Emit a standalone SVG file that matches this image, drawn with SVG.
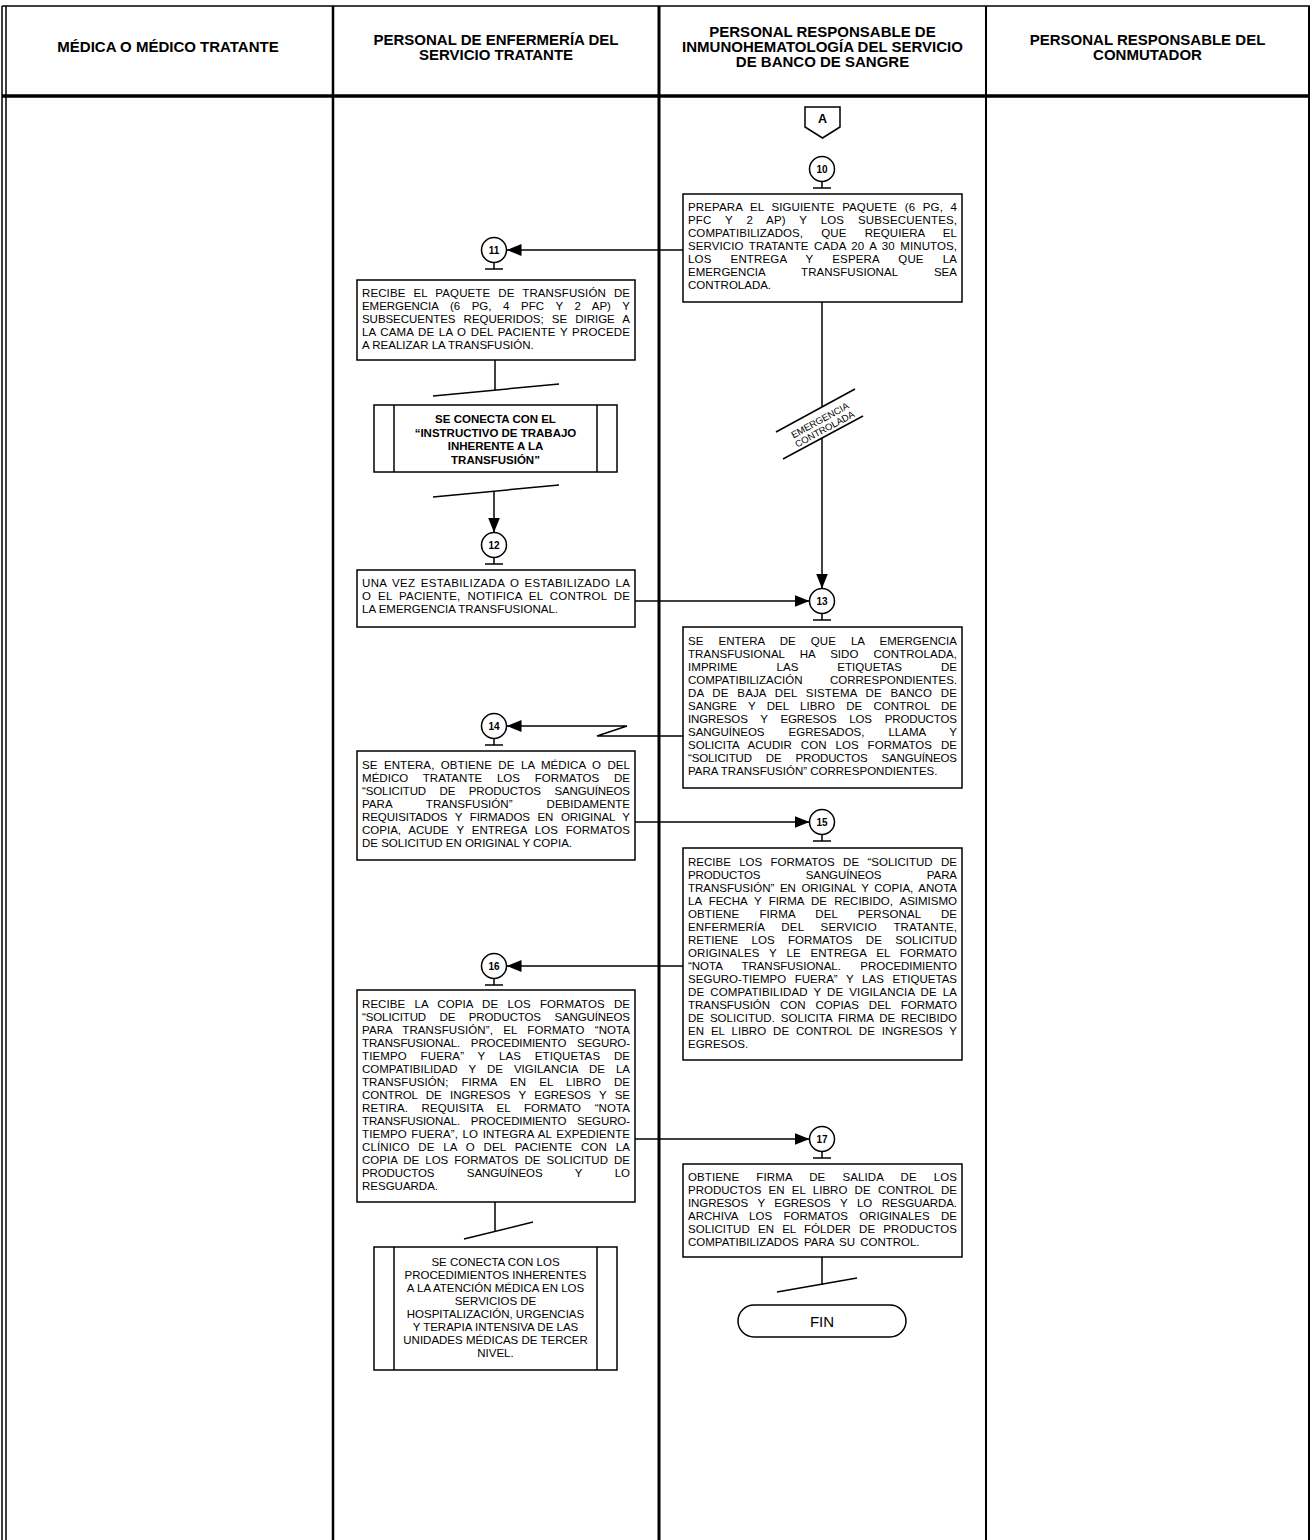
<svg xmlns="http://www.w3.org/2000/svg" width="1313" height="1540" viewBox="0 0 1313 1540">
<style>
  .frame{stroke:#000;fill:none}
  .box{fill:#fff;stroke:#000;stroke-width:1.5}
  .ln{stroke:#000;stroke-width:1.5;fill:none}
  .hd{font-family:"Liberation Sans",Arial,sans-serif;font-size:15px;font-weight:bold;text-anchor:middle;fill:#000}
  .t{font-family:"Liberation Sans",Arial,sans-serif;font-size:11.5px;fill:#000}
  .c{text-anchor:middle}
  .b{font-weight:bold}
  .num{font-family:"Liberation Sans",Arial,sans-serif;font-size:10px;font-weight:bold;text-anchor:middle}
  .small{font-family:"Liberation Sans",Arial,sans-serif;font-size:9.5px;text-anchor:middle}
</style>
<defs>
  <marker id="arr" markerUnits="userSpaceOnUse" markerWidth="16" markerHeight="12" refX="15" refY="6" orient="auto">
    <path d="M0,0 L15,6 L0,12 Z" fill="#000"/>
  </marker>
  <g id="stem"><line x1="0" y1="12.5" x2="0" y2="19" class="ln"/><line x1="-9" y1="19" x2="9" y2="19" class="ln"/></g>
</defs>
<rect width="1313" height="1540" fill="#fff"/>

<!-- swimlane frame -->
<g id="lanes">
  <line x1="2" y1="6" x2="1310" y2="6" class="frame" stroke-width="1.5"/>
  <line x1="2" y1="96" x2="1310" y2="96" class="frame" stroke-width="3.5"/>
  <line x1="2" y1="6" x2="2" y2="1540" class="frame" stroke-width="1.5"/>
  <line x1="6" y1="6" x2="6" y2="1540" class="frame" stroke-width="1.5"/>
  <line x1="333" y1="6" x2="333" y2="1540" class="frame" stroke-width="2.5"/>
  <line x1="659" y1="6" x2="659" y2="1540" class="frame" stroke-width="3"/>
  <line x1="986" y1="6" x2="986" y2="1540" class="frame" stroke-width="2"/>
  <line x1="1309" y1="6" x2="1309" y2="1540" class="frame" stroke-width="2"/>
  <text class="hd" x="168" y="52">MÉDICA O MÉDICO TRATANTE</text>
  <text class="hd" x="496" y="45">PERSONAL DE ENFERMERÍA DEL</text>
  <text class="hd" x="496" y="60">SERVICIO TRATANTE</text>
  <text class="hd" x="822.5" y="37">PERSONAL RESPONSABLE DE</text>
  <text class="hd" x="822.5" y="52">INMUNOHEMATOLOGÍA DEL SERVICIO</text>
  <text class="hd" x="822.5" y="67">DE BANCO DE SANGRE</text>
  <text class="hd" x="1147.5" y="45">PERSONAL RESPONSABLE DEL</text>
  <text class="hd" x="1147.5" y="60">CONMUTADOR</text>
</g>

<!-- connectors -->
<g id="connectors">
  <line x1="683" y1="250" x2="506.5" y2="250" class="ln" marker-end="url(#arr)"/>
  <line x1="495" y1="360" x2="495" y2="390" class="ln"/>
  <line x1="433" y1="396" x2="559" y2="384" class="ln"/>
  <line x1="433" y1="497" x2="559" y2="485" class="ln"/>
  <line x1="494" y1="491" x2="494" y2="532.5" class="ln" marker-end="url(#arr)"/>
  <line x1="635" y1="601" x2="809.5" y2="601" class="ln" marker-end="url(#arr)"/>
  <line x1="822" y1="302" x2="822" y2="407" class="ln"/>
  <line x1="776" y1="432" x2="855" y2="389" class="ln"/>
  <line x1="783" y1="459" x2="863" y2="416" class="ln"/>
  <line x1="822" y1="438" x2="822" y2="588.5" class="ln" marker-end="url(#arr)"/>
  <text class="small" transform="translate(822,424) rotate(-28.6)"><tspan x="0" y="-1">EMERGENCIA</tspan><tspan x="0" y="9">CONTROLADA</tspan></text>
  <polyline points="683,736 597,736 627,726 506.5,726" class="ln" marker-end="url(#arr)"/>
  <line x1="635" y1="822" x2="809.5" y2="822" class="ln" marker-end="url(#arr)"/>
  <line x1="683" y1="966" x2="506.5" y2="966" class="ln" marker-end="url(#arr)"/>
  <line x1="635" y1="1139" x2="809.5" y2="1139" class="ln" marker-end="url(#arr)"/>
  <line x1="495" y1="1202" x2="495" y2="1231" class="ln"/>
  <line x1="464" y1="1239" x2="533" y2="1222" class="ln"/>
  <line x1="822" y1="1257" x2="822" y2="1285" class="ln"/>
  <line x1="777" y1="1292" x2="857" y2="1278" class="ln"/>
</g>

<!-- off-page connector A -->
<g id="conn-A">
  <path d="M805,107 H840 V127 L822.5,138 L805,127 Z" class="box"/>
  <text class="num" x="822.5" y="123" style="font-size:12.5px">A</text>
</g>

<!-- step 10 -->
<g id="step10">
  <circle cx="822" cy="169" r="12.5" class="box"/>
  <text class="num" x="822" y="172.5">10</text>
  <use href="#stem" x="822" y="169"/>
  <rect x="683" y="194" width="279" height="108" class="box"/>
  <text class="t" x="688" y="211" textLength="269" lengthAdjust="spacing" word-spacing="4.3">PREPARA EL SIGUIENTE PAQUETE (6 PG, 4</text>
  <text class="t" x="688" y="224" textLength="269" lengthAdjust="spacing" word-spacing="10.4">PFC Y 2 AP) Y LOS SUBSECUENTES,</text>
  <text class="t" x="688" y="237" textLength="269" lengthAdjust="spacing" word-spacing="15">COMPATIBILIZADOS, QUE REQUIERA EL</text>
  <text class="t" x="688" y="250" textLength="269" lengthAdjust="spacing" word-spacing="2.2">SERVICIO TRATANTE CADA 20 A 30 MINUTOS,</text>
  <text class="t" x="688" y="263" textLength="269" lengthAdjust="spacing" word-spacing="15.7">LOS ENTREGA Y ESPERA QUE LA</text>
  <text class="t" x="688" y="276" textLength="269" lengthAdjust="spacing" word-spacing="33">EMERGENCIA TRANSFUSIONAL SEA</text>
  <text class="t" x="688" y="289">CONTROLADA.</text>
</g>

<!-- step 11 -->
<g id="step11">
  <circle cx="494" cy="250" r="12.5" class="box"/>
  <text class="num" x="494" y="253.5">11</text>
  <use href="#stem" x="494" y="250"/>
  <rect x="357" y="280" width="278" height="80" class="box"/>
  <text class="t" x="362" y="297" textLength="268" lengthAdjust="spacing" word-spacing="4.7">RECIBE EL PAQUETE DE TRANSFUSIÓN DE</text>
  <text class="t" x="362" y="310" textLength="268" lengthAdjust="spacing" word-spacing="8.5">EMERGENCIA (6 PG, 4 PFC Y 2 AP) Y</text>
  <text class="t" x="362" y="323" textLength="268" lengthAdjust="spacing" word-spacing="5.1">SUBSECUENTES REQUERIDOS; SE DIRIGE A</text>
  <text class="t" x="362" y="336" textLength="268" lengthAdjust="spacing" word-spacing="1.1">LA CAMA DE LA O DEL PACIENTE Y PROCEDE</text>
  <text class="t" x="362" y="349">A REALIZAR LA TRANSFUSIÓN.</text>
</g>

<!-- linked work instruction -->
<g id="sub-instructivo">
  <rect x="374" y="405" width="243" height="67" class="box"/>
  <line x1="394" y1="405" x2="394" y2="472" class="ln"/>
  <line x1="597" y1="405" x2="597" y2="472" class="ln"/>
  <text class="t c b" x="495.5" y="423">SE CONECTA CON EL</text>
  <text class="t c b" x="495.5" y="436.5">“INSTRUCTIVO DE TRABAJO</text>
  <text class="t c b" x="495.5" y="450">INHERENTE A LA</text>
  <text class="t c b" x="495.5" y="463.5">TRANSFUSIÓN”</text>
</g>

<!-- step 12 -->
<g id="step12">
  <circle cx="494" cy="545" r="12.5" class="box"/>
  <text class="num" x="494" y="548.5">12</text>
  <use href="#stem" x="494" y="545"/>
  <rect x="357" y="570" width="278" height="57" class="box"/>
  <text class="t" x="362" y="587" textLength="268" lengthAdjust="spacing" word-spacing="1.8">UNA VEZ ESTABILIZADA O ESTABILIZADO LA</text>
  <text class="t" x="362" y="600" textLength="268" lengthAdjust="spacing" word-spacing="3.6">O EL PACIENTE, NOTIFICA EL CONTROL DE</text>
  <text class="t" x="362" y="613">LA EMERGENCIA TRANSFUSIONAL.</text>
</g>

<!-- step 13 -->
<g id="step13">
  <circle cx="822" cy="601" r="12.5" class="box"/>
  <text class="num" x="822" y="604.5">13</text>
  <use href="#stem" x="822" y="601"/>
  <rect x="683" y="627" width="279" height="161" class="box"/>
  <text class="t" x="688" y="645" textLength="269" lengthAdjust="spacing" word-spacing="11.9">SE ENTERA DE QUE LA EMERGENCIA</text>
  <text class="t" x="688" y="658" textLength="269" lengthAdjust="spacing" word-spacing="11.8">TRANSFUSIONAL HA SIDO CONTROLADA,</text>
  <text class="t" x="688" y="671" textLength="269" lengthAdjust="spacing" word-spacing="35.7">IMPRIME LAS ETIQUETAS DE</text>
  <text class="t" x="688" y="684" textLength="269" lengthAdjust="spacing" word-spacing="24.4">COMPATIBILIZACIÓN CORRESPONDIENTES.</text>
  <text class="t" x="688" y="697" textLength="269" lengthAdjust="spacing" word-spacing="5.3">DA DE BAJA DEL SISTEMA DE BANCO DE</text>
  <text class="t" x="688" y="710" textLength="269" lengthAdjust="spacing" word-spacing="8">SANGRE Y DEL LIBRO DE CONTROL DE</text>
  <text class="t" x="688" y="723" textLength="269" lengthAdjust="spacing" word-spacing="9.7">INGRESOS Y EGRESOS LOS PRODUCTOS</text>
  <text class="t" x="688" y="736" textLength="269" lengthAdjust="spacing" word-spacing="20.9">SANGUÍNEOS EGRESADOS, LLAMA Y</text>
  <text class="t" x="688" y="749" textLength="269" lengthAdjust="spacing" word-spacing="5.8">SOLICITA ACUDIR CON LOS FORMATOS DE</text>
  <text class="t" x="688" y="762" textLength="269" lengthAdjust="spacing" word-spacing="10.8">“SOLICITUD DE PRODUCTOS SANGUÍNEOS</text>
  <text class="t" x="688" y="775">PARA TRANSFUSIÓN” CORRESPONDIENTES.</text>
</g>

<!-- step 14 -->
<g id="step14">
  <circle cx="494" cy="726" r="12.5" class="box"/>
  <text class="num" x="494" y="729.5">14</text>
  <use href="#stem" x="494" y="726"/>
  <rect x="357" y="751" width="278" height="109" class="box"/>
  <text class="t" x="362" y="769" textLength="268" lengthAdjust="spacing" word-spacing="3.1">SE ENTERA, OBTIENE DE LA MÉDICA O DEL</text>
  <text class="t" x="362" y="782" textLength="268" lengthAdjust="spacing" word-spacing="11.4">MÉDICO TRATANTE LOS FORMATOS DE</text>
  <text class="t" x="362" y="795" textLength="268" lengthAdjust="spacing" word-spacing="10.4">“SOLICITUD DE PRODUCTOS SANGUÍNEOS</text>
  <text class="t" x="362" y="808" textLength="268" lengthAdjust="spacing" word-spacing="30.8">PARA TRANSFUSIÓN” DEBIDAMENTE</text>
  <text class="t" x="362" y="821" textLength="268" lengthAdjust="spacing" word-spacing="4.4">REQUISITADOS Y FIRMADOS EN ORIGINAL Y</text>
  <text class="t" x="362" y="834" textLength="268" lengthAdjust="spacing" word-spacing="4.7">COPIA, ACUDE Y ENTREGA LOS FORMATOS</text>
  <text class="t" x="362" y="847">DE SOLICITUD EN ORIGINAL Y COPIA.</text>
</g>

<!-- step 15 -->
<g id="step15">
  <circle cx="822" cy="822" r="12.5" class="box"/>
  <text class="num" x="822" y="825.5">15</text>
  <use href="#stem" x="822" y="822"/>
  <rect x="683" y="848" width="279" height="212" class="box"/>
  <text class="t" x="688" y="866" textLength="269" lengthAdjust="spacing" word-spacing="5.2">RECIBE LOS FORMATOS DE “SOLICITUD DE</text>
  <text class="t" x="688" y="879" textLength="269" lengthAdjust="spacing" word-spacing="42.4">PRODUCTOS SANGUÍNEOS PARA</text>
  <text class="t" x="688" y="892" textLength="269" lengthAdjust="spacing" word-spacing="2.3">TRANSFUSIÓN” EN ORIGINAL Y COPIA, ANOTA</text>
  <text class="t" x="688" y="905" textLength="269" lengthAdjust="spacing" word-spacing="4">LA FECHA Y FIRMA DE RECIBIDO, ASIMISMO</text>
  <text class="t" x="688" y="918" textLength="269" lengthAdjust="spacing" word-spacing="16.8">OBTIENE FIRMA DEL PERSONAL DE</text>
  <text class="t" x="688" y="931" textLength="269" lengthAdjust="spacing" word-spacing="13.4">ENFERMERÍA DEL SERVICIO TRATANTE,</text>
  <text class="t" x="688" y="944" textLength="269" lengthAdjust="spacing" word-spacing="10.1">RETIENE LOS FORMATOS DE SOLICITUD</text>
  <text class="t" x="688" y="957" textLength="269" lengthAdjust="spacing" word-spacing="6.5">ORIGINALES Y LE ENTREGA EL FORMATO</text>
  <text class="t" x="688" y="970" textLength="269" lengthAdjust="spacing" word-spacing="16.2">“NOTA TRANSFUSIONAL. PROCEDIMIENTO</text>
  <text class="t" x="688" y="983" textLength="269" lengthAdjust="spacing" word-spacing="5.3">SEGURO-TIEMPO FUERA” Y LAS ETIQUETAS</text>
  <text class="t" x="688" y="996" textLength="269" lengthAdjust="spacing" word-spacing="2.6">DE COMPATIBILIDAD Y DE VIGILANCIA DE LA</text>
  <text class="t" x="688" y="1009" textLength="269" lengthAdjust="spacing" word-spacing="6.9">TRANSFUSIÓN CON COPIAS DEL FORMATO</text>
  <text class="t" x="688" y="1022" textLength="269" lengthAdjust="spacing" word-spacing="2.6">DE SOLICITUD. SOLICITA FIRMA DE RECIBIDO</text>
  <text class="t" x="688" y="1035" textLength="269" lengthAdjust="spacing" word-spacing="3.7">EN EL LIBRO DE CONTROL DE INGRESOS Y</text>
  <text class="t" x="688" y="1048">EGRESOS.</text>
</g>

<!-- step 16 -->
<g id="step16">
  <circle cx="494" cy="966" r="12.5" class="box"/>
  <text class="num" x="494" y="969.5">16</text>
  <use href="#stem" x="494" y="966"/>
  <rect x="357" y="990" width="278" height="212" class="box"/>
  <text class="t" x="362" y="1008" textLength="268" lengthAdjust="spacing" word-spacing="6">RECIBE LA COPIA DE LOS FORMATOS DE</text>
  <text class="t" x="362" y="1021" textLength="268" lengthAdjust="spacing" word-spacing="10.4">“SOLICITUD DE PRODUCTOS SANGUÍNEOS</text>
  <text class="t" x="362" y="1034" textLength="268" lengthAdjust="spacing" word-spacing="7">PARA TRANSFUSIÓN”, EL FORMATO “NOTA</text>
  <text class="t" x="362" y="1047" textLength="268" lengthAdjust="spacing" word-spacing="7.7">TRANSFUSIONAL. PROCEDIMIENTO SEGURO-</text>
  <text class="t" x="362" y="1060" textLength="268" lengthAdjust="spacing" word-spacing="10.4">TIEMPO FUERA” Y LAS ETIQUETAS DE</text>
  <text class="t" x="362" y="1073" textLength="268" lengthAdjust="spacing" word-spacing="7.8">COMPATIBILIDAD Y DE VIGILANCIA DE LA</text>
  <text class="t" x="362" y="1086" textLength="268" lengthAdjust="spacing" word-spacing="9.8">TRANSFUSIÓN; FIRMA EN EL LIBRO DE</text>
  <text class="t" x="362" y="1099" textLength="268" lengthAdjust="spacing" word-spacing="5.2">CONTROL DE INGRESOS Y EGRESOS Y SE</text>
  <text class="t" x="362" y="1112" textLength="268" lengthAdjust="spacing" word-spacing="10.2">RETIRA. REQUISITA EL FORMATO “NOTA</text>
  <text class="t" x="362" y="1125" textLength="268" lengthAdjust="spacing" word-spacing="7.7">TRANSFUSIONAL. PROCEDIMIENTO SEGURO-</text>
  <text class="t" x="362" y="1138" textLength="268" lengthAdjust="spacing" word-spacing="1.2">TIEMPO FUERA”, LO INTEGRA AL EXPEDIENTE</text>
  <text class="t" x="362" y="1151" textLength="268" lengthAdjust="spacing" word-spacing="5.4">CLÍNICO DE LA O DEL PACIENTE CON LA</text>
  <text class="t" x="362" y="1164" textLength="268" lengthAdjust="spacing" word-spacing="2.8">COPIA DE LOS FORMATOS DE SOLICITUD DE</text>
  <text class="t" x="362" y="1177" textLength="268" lengthAdjust="spacing" word-spacing="29.5">PRODUCTOS SANGUÍNEOS Y LO</text>
  <text class="t" x="362" y="1190">RESGUARDA.</text>
</g>

<!-- linked medical-care procedures -->
<g id="sub-procedimientos">
  <rect x="374" y="1247" width="243" height="123" class="box"/>
  <line x1="394" y1="1247" x2="394" y2="1370" class="ln"/>
  <line x1="597" y1="1247" x2="597" y2="1370" class="ln"/>
  <text class="t c" x="495.5" y="1266">SE CONECTA CON LOS</text>
  <text class="t c" x="495.5" y="1279">PROCEDIMIENTOS INHERENTES</text>
  <text class="t c" x="495.5" y="1292">A LA ATENCIÓN MÉDICA EN LOS</text>
  <text class="t c" x="495.5" y="1305">SERVICIOS DE</text>
  <text class="t c" x="495.5" y="1318">HOSPITALIZACIÓN, URGENCIAS</text>
  <text class="t c" x="495.5" y="1331">Y TERAPIA INTENSIVA DE LAS</text>
  <text class="t c" x="495.5" y="1344">UNIDADES MÉDICAS DE TERCER</text>
  <text class="t c" x="495.5" y="1357">NIVEL.</text>
</g>

<!-- step 17 -->
<g id="step17">
  <circle cx="822" cy="1139" r="12.5" class="box"/>
  <text class="num" x="822" y="1142.5">17</text>
  <use href="#stem" x="822" y="1139"/>
  <rect x="683" y="1164" width="279" height="93" class="box"/>
  <text class="t" x="688" y="1181" textLength="269" lengthAdjust="spacing" word-spacing="13.8">OBTIENE FIRMA DE SALIDA DE LOS</text>
  <text class="t" x="688" y="1194" textLength="269" lengthAdjust="spacing" word-spacing="4.1">PRODUCTOS EN EL LIBRO DE CONTROL DE</text>
  <text class="t" x="688" y="1207" textLength="269" lengthAdjust="spacing" word-spacing="6.5">INGRESOS Y EGRESOS Y LO RESGUARDA.</text>
  <text class="t" x="688" y="1220" textLength="269" lengthAdjust="spacing" word-spacing="8.1">ARCHIVA LOS FORMATOS ORIGINALES DE</text>
  <text class="t" x="688" y="1233" textLength="269" lengthAdjust="spacing" word-spacing="4.9">SOLICITUD EN EL FÓLDER DE PRODUCTOS</text>
  <text class="t" x="688" y="1246" word-spacing="2">COMPATIBILIZADOS PARA SU CONTROL.</text>
</g>

<!-- end terminator -->
<g id="fin">
  <rect x="738" y="1305" width="168" height="32" rx="16" class="box"/>
  <text class="t c" x="822" y="1326.5" style="font-size:15px">FIN</text>
</g>
</svg>
